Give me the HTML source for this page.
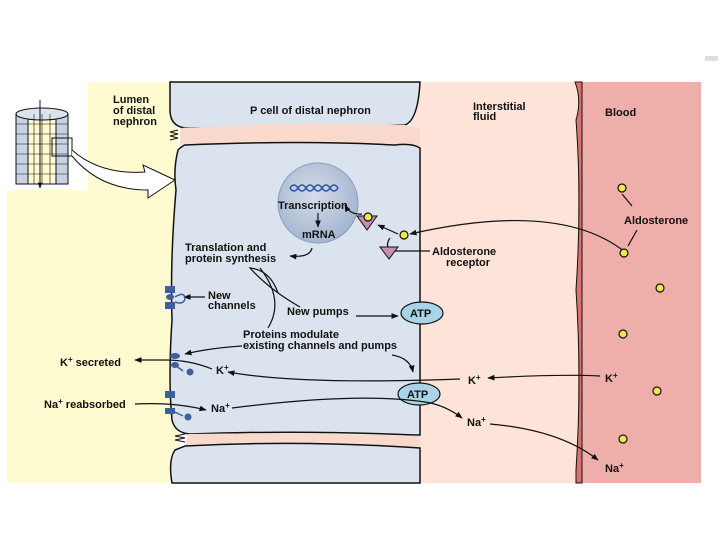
<!DOCTYPE html>
<html><head><meta charset="utf-8"><style>
body{margin:0;background:#fff;width:720px;height:540px;overflow:hidden}
svg{display:block}
text{font-family:"Liberation Sans",sans-serif;font-weight:bold;font-size:11px;fill:#111}
</style></head><body>
<svg width="720" height="540" viewBox="0 0 720 540">
<defs>
<marker id="a" viewBox="0 0 10 10" refX="9" refY="5" markerWidth="6" markerHeight="6" orient="auto"><path d="M0,1 L10,5 L0,9 z" fill="#111"/></marker>
<radialGradient id="ng" cx="0.45" cy="0.4" r="0.6"><stop offset="0" stop-color="#d4dcea"/><stop offset="1" stop-color="#a5b5cf"/></radialGradient>
</defs>
<rect x="88" y="82" width="90" height="401" fill="#fffbd0"/>
<rect x="7" y="190" width="90" height="293" fill="#fffbd0"/>
<rect x="410" y="82" width="170" height="401" fill="#fde3d8"/>
<rect x="578" y="82" width="123" height="401" fill="#eeaeaa"/>
<path d="M575,82 Q582,100 576,120 Q582,200 576,290 Q582,380 576,470 L576,483 L582,483 L582,82 z" fill="#d9726e" stroke="#111" stroke-width="1"/>
<path d="M170,82 L420,82 Q418,120 405,125 L185,128 Q170,126 170,110 z" fill="#dbe3ef" stroke="#111" stroke-width="1.5"/>
<path d="M180,128 Q300,122 405,125 L420,128 L420,147 L180,145 z" fill="#f9d9cc"/>
<path d="M185,145 Q182,146 178,150 Q173,170 176,190 Q170,260 172,320 Q168,380 172,420 Q175,433 190,434 Q300,430 415,435 L420,435 L420,148 Q412,143 395,145 Q300,140 185,145 z" fill="#dbe3ef" stroke="#111" stroke-width="1.5"/>
<path d="M188,434 Q300,432 420,436 L420,448 L185,446 z" fill="#f9d9cc"/>
<path d="M185,446 Q300,440 420,448 L420,483 L172,483 Q168,460 175,450 z" fill="#dbe3ef" stroke="#111" stroke-width="1.5"/>
<path d="M178,130 l-8,2 l8,2 l-8,2 l8,2 l-8,2 M185,434 l-10,2 l10,2 l-10,2 l10,2" stroke="#111" fill="none"/>
<rect x="8" y="82" width="80" height="108" fill="#fff"/>
<rect x="16" y="114" width="52" height="70" fill="#fffbd0" stroke="#111"/>
<rect x="16" y="114" width="12" height="70" fill="#c8d2e4" stroke="#111"/>
<rect x="56" y="114" width="12" height="70" fill="#c8d2e4" stroke="#111"/>
<ellipse cx="42" cy="114" rx="26" ry="6" fill="#dbe3ef" stroke="#111"/>
<path d="M16,124h52M16,134h52M16,144h52M16,154h52M16,164h52M16,174h52M34,114v70M42,114v70M50,114v70" stroke="#111" stroke-width="0.6"/>
<line x1="40" y1="100" x2="40" y2="188" stroke="#111" marker-end="url(#a)"/>
<rect x="52" y="138" width="20" height="18" fill="none" stroke="#111"/>
<path d="M72,150 Q100,175 145,172 L143,165 L175,180 L148,198 L148,190 Q100,190 72,156" fill="#fff" stroke="#111"/>
<circle cx="318" cy="203" r="40" fill="url(#ng)" stroke="#8a9cbc"/>
<path d="M290,188 q4,-6 8,0 q4,6 8,0 q4,-6 8,0 q4,6 8,0 q4,-6 8,0 q4,6 8,0" stroke="#2a4fa0" fill="none" stroke-width="1.5"/>
<path d="M290,188 q4,6 8,0 q4,-6 8,0 q4,6 8,0 q4,-6 8,0 q4,6 8,0 q4,-6 8,0" stroke="#2a4fa0" fill="none" stroke-width="1.5"/>
<text x="113" y="103">Lumen</text><text x="113" y="114">of distal</text><text x="113" y="125">nephron</text>
<text x="250" y="114">P cell of distal nephron</text>
<text x="473" y="110">Interstitial</text><text x="473" y="120">fluid</text>
<text x="605" y="116">Blood</text>
<text x="624" y="224">Aldosterone</text>
<text x="432" y="255">Aldosterone</text><text x="446" y="266">receptor</text>
<text x="278" y="209">Transcription</text>
<text x="302" y="238">mRNA</text>
<text x="185" y="251">Translation and</text><text x="185" y="262">protein synthesis</text>
<text x="208" y="299">New</text><text x="208" y="309">channels</text>
<text x="287" y="315">New pumps</text>
<text x="243" y="338">Proteins modulate</text><text x="243" y="349">existing channels and pumps</text>
<text x="60" y="366">K<tspan dy="-4" font-size="8">+</tspan><tspan dy="4"> secreted</tspan></text>
<text x="44" y="408">Na<tspan dy="-4" font-size="8">+</tspan><tspan dy="4"> reabsorbed</tspan></text>
<text x="216" y="374">K<tspan dy="-4" font-size="8">+</tspan></text>
<text x="211" y="412">Na<tspan dy="-4" font-size="8">+</tspan></text>
<text x="468" y="384">K<tspan dy="-4" font-size="8">+</tspan></text>
<text x="605" y="382">K<tspan dy="-4" font-size="8">+</tspan></text>
<text x="467" y="426">Na<tspan dy="-4" font-size="8">+</tspan></text>
<text x="605" y="472">Na<tspan dy="-4" font-size="8">+</tspan></text>
<ellipse cx="422" cy="313" rx="21" ry="11" fill="#a9d3e6" stroke="#111" stroke-width="1.2"/><text x="410" y="317">ATP</text>
<ellipse cx="419" cy="394" rx="21" ry="11" fill="#a9d3e6" stroke="#111" stroke-width="1.2"/><text x="407" y="398">ATP</text>
<g stroke="#111" fill="none" stroke-width="1.2">
<path d="M318,213 v14" marker-end="url(#a)"/>
<path d="M312,248 Q310,258 290,256" marker-end="url(#a)"/>
<path d="M362,214 Q350,215 345,205" marker-end="url(#a)"/>
<path d="M398,234 L378,225" marker-end="url(#a)"/>
<path d="M390,250 Q385,245 390,238"/>
<path d="M395,251 H430"/>
<path d="M625,252 Q560,200 410,234" marker-end="url(#a)"/>
<path d="M622,194 L632,206 M628,246 L637,230"/>
<path d="M278,293 Q270,270 250,268 Q270,290 300,307"/>
<path d="M260,268 Q285,300 268,328"/>
<path d="M205,297 H184" marker-end="url(#a)"/>
<path d="M356,316 H398" marker-end="url(#a)"/>
<path d="M242,346 Q210,348 185,354" marker-end="url(#a)"/>
<path d="M392,355 Q410,358 413,372" marker-end="url(#a)"/>
<path d="M212,369 Q190,360 165,360 H135" marker-end="url(#a)"/>
<path d="M460,379 Q300,385 228,372" marker-end="url(#a)"/>
<path d="M600,376 Q560,374 488,378" marker-end="url(#a)"/>
<path d="M135,404 Q175,402 206,410" marker-end="url(#a)"/>
<path d="M232,408 Q360,392 425,402 Q445,405 462,418" marker-end="url(#a)"/>
<path d="M490,424 Q560,430 598,460" marker-end="url(#a)"/>
</g>
<path d="M357,216 L377,216 L367,230 z" fill="#c48fb0" stroke="#111"/>
<path d="M380,247 L398,247 L389,259 z" fill="#c48fb0" stroke="#111"/>
<g fill="#f3e64a" stroke="#111" stroke-width="1.2">
<circle cx="368" cy="217" r="4"/><circle cx="404" cy="235" r="4"/>
<circle cx="622" cy="188" r="4"/><circle cx="624" cy="253" r="4"/><circle cx="660" cy="288" r="4"/>
<circle cx="623" cy="334" r="4"/><circle cx="657" cy="391" r="4"/><circle cx="623" cy="439" r="4"/>
</g>
<g fill="#3d5f9e">
<rect x="165" y="286" width="10" height="7"/><rect x="165" y="302" width="10" height="7"/>
<ellipse cx="170" cy="297" rx="4" ry="3"/>
<ellipse cx="175" cy="356" rx="5" ry="3"/><ellipse cx="175" cy="365" rx="4" ry="3"/><circle cx="190" cy="372" r="3.5"/>
<rect x="165" y="391" width="10" height="7"/><rect x="165" y="408" width="10" height="6"/><circle cx="188" cy="417" r="3.5"/>
</g>
<path d="M175,297 q10,-6 10,2 q-2,6 -10,3 M175,365 l8,6 M175,412 l8,4" stroke="#3d5f9e" fill="none" stroke-width="1.5"/>
<rect x="705" y="56" width="13" height="5" fill="#ddd"/>
</svg>
</body></html>
